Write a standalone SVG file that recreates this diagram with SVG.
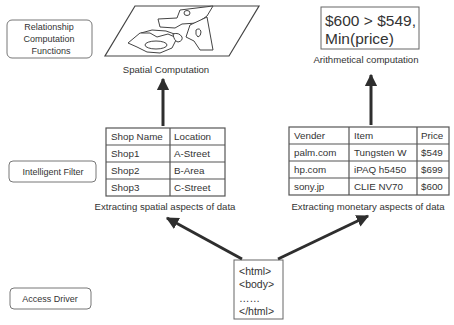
<svg xmlns="http://www.w3.org/2000/svg" width="454" height="325" viewBox="0 0 454 325">
  <defs>
    <marker id="head" viewBox="0 0 10 10" refX="9" refY="5" markerWidth="4.2" markerHeight="4.2" orient="auto" markerUnits="strokeWidth">
      <path d="M0,0 L10,5 L0,10 z" fill="#2e2e2e"/>
    </marker>
    <style>
      text { font-family: "Liberation Sans", Arial, sans-serif; fill: #333; }
      .lbl { font-size: 9px; text-anchor: middle; }
      .cap { font-size: 9.6px; text-anchor: middle; }
      .cell { font-size: 9.8px; }
      .code { font-size: 10.5px; }
      .grid { fill: none; stroke: #555; stroke-width: 1.2; }
      .side { fill: #fff; stroke: #777; stroke-width: 1; }
      .map { fill: #fff; stroke: #444; stroke-width: 1; stroke-linejoin: round; }
      .conn { stroke: #2e2e2e; stroke-width: 3; fill: none; marker-end: url(#head); }
    </style>
  </defs>
  <rect width="454" height="325" fill="#fff"/>

  <!-- layer labels -->
  <g id="label-relationship">
    <rect class="side" x="7" y="20" width="85" height="38" rx="5"/>
    <text class="lbl" x="49" y="30">Relationship</text>
    <text class="lbl" x="49" y="42">Computation</text>
    <text class="lbl" x="51" y="54">Functions</text>
  </g>
  <g id="label-filter">
    <rect class="side" x="9" y="161" width="87" height="21" rx="4"/>
    <text class="lbl" x="53" y="174.5">Intelligent Filter</text>
  </g>
  <g id="label-access">
    <rect class="side" x="10" y="288" width="81" height="21" rx="4"/>
    <text class="lbl" x="50" y="301.5">Access Driver</text>
  </g>

  <!-- spatial computation: map on a tilted plane -->
  <g id="spatial">
    <polygon points="135,6 259,6 229,56 105,56" fill="#fff" stroke="#444" stroke-width="1.2"/>
    <polygon class="map" points="158,19 177,18 180,10 213,6 207,16 197,23 182,24 175,28 160,27"/>
    <ellipse class="map" cx="187" cy="13" rx="3" ry="2.5"/>
    <polygon class="map" points="190,25 207,17 213,50 200,50 194,41 186,37"/>
    <path class="map" d="M196,30 q4,-3 5,2 q0,4 -3,5 q-3,-2 -2,-7z"/>
    <polygon class="map" points="141,33 152,30 166,31 180,36 178,41 166,40 150,38"/>
    <polygon class="map" points="128,43 140,33 150,33 157,37 168,34 177,38 172,48 160,53 147,52 137,47"/>
    <ellipse class="map" cx="156" cy="45" rx="11" ry="4"/>
    <path class="map" d="M173,34 q6,-2 9,3 q1,4 -4,5 q-4,-1 -5,-8z"/>
    <text class="cap" x="166" y="73">Spatial Computation</text>
  </g>

  <!-- arithmetical computation -->
  <g id="arith">
    <rect x="321" y="7" width="98" height="42" fill="#fff" stroke="#666" stroke-width="1"/>
    <text x="325" y="26" font-size="15.5">$600 &gt; $549,</text>
    <text x="325" y="44" font-size="15.5">Min(price)</text>
    <text class="cap" x="366" y="63">Arithmetical computation</text>
  </g>

  <!-- spatial aspects table -->
  <g id="shop-table">
    <rect class="grid" x="106" y="128" width="119" height="68"/>
    <path class="grid" d="M170,128 V196 M106,145 H225 M106,162 H225 M106,179 H225"/>
    <text class="cell" x="111" y="140">Shop Name</text>
    <text class="cell" x="174" y="140">Location</text>
    <text class="cell" x="111" y="157">Shop1</text>
    <text class="cell" x="174" y="157">A-Street</text>
    <text class="cell" x="111" y="174">Shop2</text>
    <text class="cell" x="174" y="174">B-Area</text>
    <text class="cell" x="111" y="191">Shop3</text>
    <text class="cell" x="174" y="191">C-Street</text>
    <text class="cap" x="165" y="210">Extracting spatial aspects of data</text>
  </g>

  <!-- monetary aspects table -->
  <g id="price-table">
    <rect class="grid" x="289" y="127" width="160" height="68"/>
    <path class="grid" d="M349,127 V195 M417,127 V195 M289,144 H449 M289,161 H449 M289,178 H449"/>
    <text class="cell" x="294" y="139">Vender</text>
    <text class="cell" x="354" y="139">Item</text>
    <text class="cell" x="421" y="139">Price</text>
    <text class="cell" x="294" y="156">palm.com</text>
    <text class="cell" x="354" y="156">Tungsten W</text>
    <text class="cell" x="421" y="156">$549</text>
    <text class="cell" x="294" y="173">hp.com</text>
    <text class="cell" x="354" y="173">iPAQ h5450</text>
    <text class="cell" x="421" y="173">$699</text>
    <text class="cell" x="294" y="190">sony.jp</text>
    <text class="cell" x="354" y="190">CLIE NV70</text>
    <text class="cell" x="421" y="190">$600</text>
    <text class="cap" x="368" y="210">Extracting  monetary aspects of data</text>
  </g>

  <!-- html source -->
  <g id="html-doc">
    <rect x="234" y="260" width="49" height="59" fill="#fff" stroke="#666" stroke-width="1"/>
    <text class="code" x="239" y="275">&lt;html&gt;</text>
    <text class="code" x="239" y="288">&lt;body&gt;</text>
    <text class="code" x="239" y="302">……</text>
    <text class="code" x="239" y="315">&lt;/html&gt;</text>
  </g>

  <!-- connectors -->
  <g id="connectors">
    <line class="conn" x1="163" y1="126" x2="163" y2="79"/>
    <line class="conn" x1="371" y1="125" x2="371" y2="75"/>
    <line class="conn" x1="242" y1="259" x2="167" y2="218"/>
    <line class="conn" x1="278" y1="259" x2="368" y2="216"/>
  </g>
</svg>
